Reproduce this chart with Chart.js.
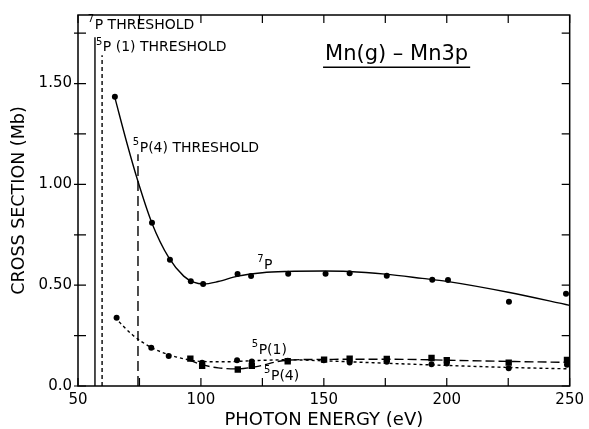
<!DOCTYPE html>
<html>
<head>
<meta charset="utf-8">
<script src="https://cdn.jsdelivr.net/npm/chart.js@4"></script>
<style>
  html, body { margin: 0; padding: 0; background: #fff; }
  #wrap { width: 589px; height: 429px; }
</style>
</head>
<body>
<div id="wrap"><canvas id="chart" width="589" height="429"></canvas></div>
<script>
// measured points, 7P
const p7X = [65, 80.1, 87.4, 95.9, 100.9, 114.9, 120.4, 135.5, 150.7, 160.5, 175.6, 194.1, 200.5, 225.3, 248.5];
const p7Y = [1.435, 0.81, 0.626, 0.52, 0.506, 0.555, 0.545, 0.557, 0.557, 0.559, 0.547, 0.527, 0.526, 0.418, 0.458];
// fitted curve, 7P
const fit7X = [65, 70, 74, 80, 87, 93, 97, 101, 107, 115, 125, 135, 150, 160, 175, 190, 200, 225, 250];
const fit7Y = [1.43, 1.2, 1.03, 0.81, 0.635, 0.545, 0.515, 0.506, 0.518, 0.545, 0.562, 0.568, 0.57, 0.568, 0.555, 0.534, 0.519, 0.465, 0.40];

// 5P(1) circles
const p51X = [65.7, 79.8, 86.9, 100.5, 114.7, 120.7, 135.3, 150, 160.5, 175.6, 193.8, 200, 225.2, 248.9];
const p51Y = [0.339, 0.19, 0.149, 0.115, 0.128, 0.122, 0.125, 0.128, 0.116, 0.12, 0.108, 0.112, 0.088, 0.105];
const fit51X = [65, 72, 80, 87, 95, 100, 110, 120, 135, 150, 175, 200, 225, 250];
const fit51Y = [0.34, 0.255, 0.19, 0.155, 0.13, 0.122, 0.12, 0.125, 0.13, 0.125, 0.113, 0.102, 0.092, 0.085];

// 5P(4) squares
const p54X = [95.7, 100.5, 115, 120.7, 135.3, 150.1, 160.5, 175.6, 193.8, 200, 225.2, 248.9];
const p54Y = [0.136, 0.1, 0.082, 0.1, 0.123, 0.131, 0.136, 0.134, 0.139, 0.128, 0.116, 0.129];
const fit54X = [95, 100, 107, 115, 122, 135, 150, 175, 200, 225, 250];
const fit54Y = [0.13, 0.107, 0.09, 0.085, 0.095, 0.128, 0.132, 0.133, 0.128, 0.122, 0.117];

// thresholds
const thrX = [56.9, 59.8, 74.4];
const thrTop = [1.73, 1.64, 1.15];

const xTicks = [50, 75, 100, 125, 150, 175, 200, 225, 250];
const yTicks = [0, 0.25, 0.5, 0.75, 1.0, 1.25, 1.5, 1.75];
const yLabelVals = [0, 0.5, 1.0, 1.5];
const yLabelText = ['0.0', '0.50', '1.00', '1.50'];

const FONT = '"DejaVu Sans", sans-serif';

function pts(xs, ys) {
  return xs.map((x, i) => ({ x: x, y: ys[i] }));
}

function markSet(xs, ys, style, r) {
  return {
    data: pts(xs, ys), showLine: false, pointStyle: style,
    pointRadius: r, backgroundColor: '#000', borderColor: '#000', borderWidth: 0
  };
}

function curveSet(xs, ys, dash) {
  return {
    data: pts(xs, ys), showLine: true, pointRadius: 0, borderColor: '#000',
    borderWidth: 1.4, borderDash: dash, cubicInterpolationMode: 'monotone', fill: false
  };
}

const thrDash = [[], [4, 3], [10, 5]];
const thrSets = thrX.map((x, i) => ({
  data: [{ x: x, y: 0 }, { x: x, y: thrTop[i] }], showLine: true, pointRadius: 0,
  borderColor: '#000', borderWidth: 1.4, borderDash: thrDash[i]
}));

function supText(ctx, x, y, sup, main, size) {
  ctx.font = Math.round(size * 0.68) + 'px ' + FONT;
  ctx.textBaseline = 'middle';
  ctx.textAlign = 'left';
  ctx.fillText(sup, x, y - size * 0.38);
  const w = ctx.measureText(sup).width;
  ctx.font = size + 'px ' + FONT;
  ctx.fillText(main, x + w + 0.5, y);
}

const framePlugin = {
  id: 'frame',
  afterDraw(chart) {
    const ctx = chart.ctx;
    const a = chart.chartArea;
    const xs = chart.scales.x, ys = chart.scales.y;
    ctx.save();
    ctx.strokeStyle = '#000';
    ctx.fillStyle = '#000';
    ctx.lineWidth = 1.5;
    ctx.strokeRect(a.left, a.top, a.right - a.left, a.bottom - a.top);
    ctx.lineWidth = 1.2;
    ctx.beginPath();
    xTicks.forEach(v => {
      const px = xs.getPixelForValue(v);
      ctx.moveTo(px, a.bottom); ctx.lineTo(px, a.bottom - 8);
      ctx.moveTo(px, a.top); ctx.lineTo(px, a.top + 8);
    });
    yTicks.forEach(v => {
      const py = ys.getPixelForValue(v);
      ctx.moveTo(a.left - 4, py); ctx.lineTo(a.left + 8, py);
      ctx.moveTo(a.right, py); ctx.lineTo(a.right - 8, py);
    });
    ctx.stroke();

    // threshold and curve labels
    supText(ctx, xs.getPixelForValue(54), ys.getPixelForValue(1.79), '7', 'P THRESHOLD', 14);
    supText(ctx, xs.getPixelForValue(57.3), ys.getPixelForValue(1.68), '5', 'P (1) THRESHOLD', 14);
    supText(ctx, xs.getPixelForValue(72.3), ys.getPixelForValue(1.18), '5', 'P(4) THRESHOLD', 14);
    supText(ctx, xs.getPixelForValue(122.9), ys.getPixelForValue(0.6), '7', 'P', 14);
    supText(ctx, xs.getPixelForValue(120.7), ys.getPixelForValue(0.178), '5', 'P(1)', 14);
    supText(ctx, xs.getPixelForValue(125.7), ys.getPixelForValue(0.05), '5', 'P(4)', 14);

    // panel title, underlined
    ctx.font = '21px ' + FONT;
    ctx.textAlign = 'center';
    ctx.textBaseline = 'middle';
    const tx = xs.getPixelForValue(179.6), ty = ys.getPixelForValue(1.645);
    ctx.fillText('Mn(g) \u2013 Mn3p', tx, ty);
    const tw = ctx.measureText('Mn(g) \u2013 Mn3p').width;
    ctx.lineWidth = 1.5;
    ctx.beginPath();
    ctx.moveTo(tx - tw / 2 - 2, ty + 13);
    ctx.lineTo(tx + tw / 2 + 2, ty + 13);
    ctx.stroke();
    ctx.restore();
  }
};

new Chart(document.getElementById('chart'), {
  type: 'scatter',
  data: {
    datasets: [
      curveSet(fit7X, fit7Y, []),
      curveSet(fit51X, fit51Y, [3, 3]),
      curveSet(fit54X, fit54Y, [9, 4]),
      markSet(p7X, p7Y, 'circle', 3),
      markSet(p51X, p51Y, 'circle', 3),
      markSet(p54X, p54Y, 'rect', 4.5)
    ].concat(thrSets)
  },
  options: {
    responsive: false,
    animation: false,
    events: [],
    layout: { padding: { top: 10, right: 17, left: 0, bottom: 0 } },
    plugins: { legend: { display: false }, tooltip: { enabled: false } },
    scales: {
      x: {
        type: 'linear', min: 50, max: 250,
        afterBuildTicks: s => { s.ticks = [50, 100, 150, 200, 250].map(v => ({ value: v })); },
        afterFit: s => { s.height = 43; },
        grid: { display: false, drawTicks: false },
        border: { display: false },
        ticks: { padding: 5, color: '#000', font: { family: FONT, size: 15 } },
        title: {
          display: true, text: 'PHOTON ENERGY (eV)', color: '#000',
          font: { family: FONT, size: 18, lineHeight: 1 }, padding: { top: 0, bottom: 0 }
        }
      },
      y: {
        type: 'linear', min: 0, max: 1.84,
        afterBuildTicks: s => { s.ticks = yLabelVals.map(v => ({ value: v })); },
        afterFit: s => { s.width = 78; },
        grid: { display: false, drawTicks: false },
        border: { display: false },
        ticks: {
          padding: 6, color: '#000', font: { family: FONT, size: 15 },
          callback: v => yLabelText[yLabelVals.indexOf(v)]
        },
        title: {
          display: true, text: 'CROSS SECTION (Mb)', color: '#000',
          font: { family: FONT, size: 17.5, lineHeight: 1.2 }, padding: { top: 9, bottom: 0 }
        }
      }
    }
  },
  plugins: [framePlugin]
});
</script>
</body>
</html>
